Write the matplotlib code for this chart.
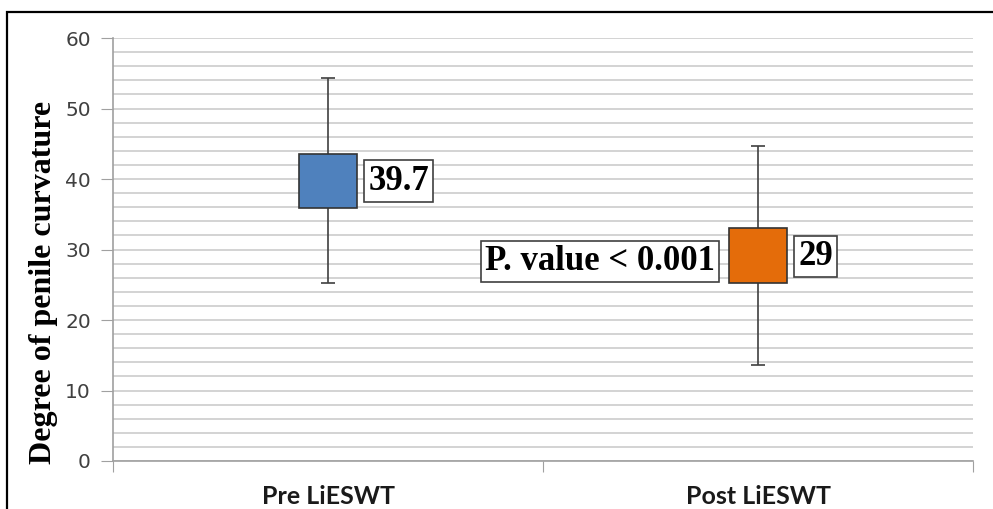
import matplotlib.pyplot as plt
import matplotlib.patches as patches
import numpy as np

groups = ['Pre LiESWT', 'Post LiESWT']
means = [39.7, 29]
box_low = [35.9, 25.2]
box_high = [43.5, 33.0]
whisk_low = [25.2, 13.6]
whisk_high = [54.3, 44.7]
colors = ['#4f81bd', '#e46c0a']
mean_labels = ['39.7', '29']
p_text = 'P. value < 0.001'

fig = plt.figure(figsize=(9.93, 5.09), dpi=100)
ax = fig.add_axes([113 / 993, 1 - 461 / 509, 860 / 993, 423 / 509])

x = np.arange(len(groups))
ax.vlines(x, whisk_low, whisk_high, color='#404040', lw=1.2, zorder=2)
ax.hlines(whisk_low, x - 0.016, x + 0.016, color='#404040', lw=1.2, zorder=2)
ax.hlines(whisk_high, x - 0.016, x + 0.016, color='#404040', lw=1.2, zorder=2)
ax.bar(x, np.array(box_high) - np.array(box_low), bottom=box_low, width=0.137,
       color=colors, edgecolor='#333333', lw=1.2, zorder=3)

serif = 'Liberation Serif'
for i in range(len(groups)):
    ax.text(x[i] + 0.094, means[i], mean_labels[i], family=serif, fontweight='bold',
            fontsize=25, va='center', ha='left', zorder=4,
            bbox=dict(boxstyle='square,pad=0.12', fc='white', ec='#404040', lw=1.2))
ax.text(x[1] - 0.1, 28.3, p_text, family=serif, fontweight='bold', fontsize=25,
        va='center', ha='right', zorder=4,
        bbox=dict(boxstyle='square,pad=0.12', fc='white', ec='#404040', lw=1.2))

ax.set_xlim(-0.5, 1.5)
ax.set_ylim(0, 60)
ax.set_yticks(range(0, 61, 10))
ax.set_yticks(range(0, 61, 2), minor=True)
ax.set_xticks([-0.5, 0.5, 1.5])
ax.set_xticks(x, minor=True)
ax.set_xticklabels([])
ax.set_xticklabels(groups, minor=True, family='Lato', fontweight='bold', fontsize=18,
                   color='#1a1a1a')
ax.tick_params(axis='x', which='minor', length=0, pad=17)
ax.tick_params(axis='x', which='major', length=8, color='#a0a0a0')
ax.tick_params(axis='y', which='major', length=9, color='#a0a0a0', labelsize=14.5,
               labelcolor='#404040', pad=7)
ax.tick_params(axis='y', which='minor', length=0)
ax.grid(axis='y', which='both', color='#d0d0d0', lw=1.3)
ax.set_axisbelow(True)
for s in ['top', 'right']:
    ax.spines[s].set_visible(False)
for s in ['left', 'bottom']:
    ax.spines[s].set_color('#a0a0a0')
    ax.spines[s].set_linewidth(1.2)

ax.set_ylabel('Degree of penile curvature', family=serif, fontweight='bold', fontsize=23)
ax.yaxis.set_label_coords(-0.064, 0.423)

frame = patches.Rectangle((7 / 993, -0.05), 1.1, 1 - 11.5 / 509 + 0.05,
                          transform=fig.transFigure, fill=False, ec='black', lw=1.6,
                          clip_on=False)
fig.patches.append(frame)

fig.savefig('out.png', dpi=100)
